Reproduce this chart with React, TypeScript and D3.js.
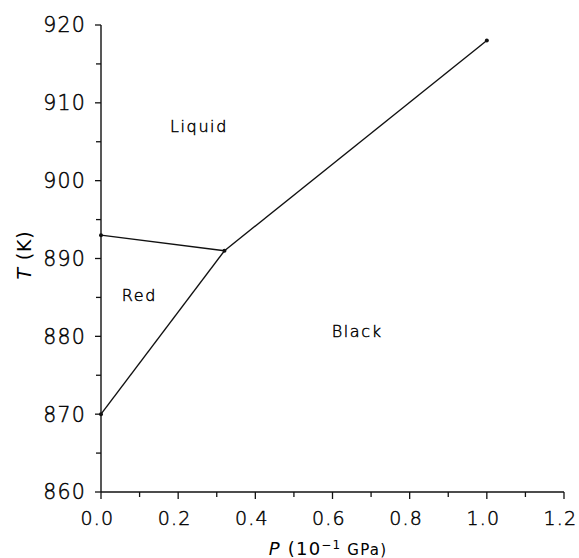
import React from "react";
import * as d3 from "d3";

// Data (P in 10^-1 GPa, T in K)
const liquidRed: [number, number][] = [[0, 893], [0.32, 891]];
const redBlack: [number, number][] = [[0, 870], [0.32, 891]];
const liquidBlack: [number, number][] = [[0.32, 891], [1.0, 918]];
const markedPoints: [number, number][] = [[0, 893], [0, 870], [0.32, 891], [1.0, 918]];

const xMajorTicks = [0, 0.2, 0.4, 0.6, 0.8, 1.0, 1.2];
const xMinorTicks = [0.1, 0.3, 0.5, 0.7, 0.9, 1.1];
const yMajorTicks = [860, 870, 880, 890, 900, 910, 920];
const yMinorTicks = [865, 875, 885, 895, 905, 915];

const regionNames = ["Liquid", "Red", "Black"];
const regionAnchors: [number, number][] = [[0.179, 906.2], [0.054, 884.6], [0.598, 879.9]];

const W = 579;
const H = 558;
const FONT = "'DejaVu Sans', 'Liberation Sans', sans-serif";

const textStyle = {
  fontFamily: FONT,
  fontWeight: 200,
  fill: "#000",
  stroke: "#000",
  strokeWidth: 0.45,
} as const;

export default function App() {
  const x = d3.scaleLinear().domain([0, 1.2]).range([101, 564]);
  const y = d3.scaleLinear().domain([860, 920]).range([492, 25]);
  const line = d3
    .line<[number, number]>()
    .x((d) => x(d[0]))
    .y((d) => y(d[1]));

  const fmtX = d3.format(".1f");

  return (
    <svg
      width={W}
      height={H}
      style={{ position: "absolute", left: 0, top: 0, background: "#fff" }}
    >
      <rect x={0} y={0} width={W} height={H} fill="#fff" />
      {/* axes */}
      <line x1={x(0)} x2={x(0)} y1={y(920)} y2={y(860)} stroke="#111" strokeWidth={1.4} />
      <line x1={x(0)} x2={x(1.2)} y1={y(860)} y2={y(860)} stroke="#111" strokeWidth={1.4} />
      {yMajorTicks.map((t) => (
        <g key={"ym" + t}>
          <line x1={x(0) - 6} x2={x(0)} y1={y(t)} y2={y(t)} stroke="#111" strokeWidth={1.3} />
          <text
            x={86}
            y={y(t)}
            dy="0.36em"
            textAnchor="end"
            fontSize={20.5}
            letterSpacing={1.2}
            {...textStyle}
          >
            {t}
          </text>
        </g>
      ))}
      {yMinorTicks.map((t) => (
        <line key={"yn" + t} x1={x(0) - 5} x2={x(0)} y1={y(t)} y2={y(t)} stroke="#111" strokeWidth={1.3} />
      ))}
      {xMajorTicks.map((t) => (
        <g key={"xm" + t}>
          <line x1={x(t)} x2={x(t)} y1={y(860)} y2={y(860) + 7} stroke="#111" strokeWidth={1.3} />
          <text
            x={x(t) - 3.5}
            y={525}
            textAnchor="middle"
            fontSize={19}
            letterSpacing={1.2}
            {...textStyle}
          >
            {fmtX(t)}
          </text>
        </g>
      ))}
      {xMinorTicks.map((t) => (
        <line key={"xn" + t} x1={x(t)} x2={x(t)} y1={y(860)} y2={y(860) + 5} stroke="#111" strokeWidth={1.3} />
      ))}

      {/* phase boundaries */}
      {[liquidRed, redBlack, liquidBlack].map((seg, i) => (
        <path key={"seg" + i} d={line(seg) || ""} fill="none" stroke="#111" strokeWidth={1.4} />
      ))}
      {markedPoints.map((p, i) => (
        <circle key={"pt" + i} cx={x(p[0])} cy={y(p[1])} r={2} fill="#111" />
      ))}

      {/* region labels */}
      {regionNames.map((n, i) => (
        <text
          key={n}
          x={x(regionAnchors[i][0])}
          y={y(regionAnchors[i][1])}
          fontSize={16}
          letterSpacing={1.6}
          {...textStyle}
        >
          {n}
        </text>
      ))}

      {/* axis titles */}
      <text
        transform={`translate(31, 255) rotate(-90)`}
        textAnchor="middle"
        fontSize={19}
        letterSpacing={0.8}
        {...textStyle}
        fontWeight={400}
        strokeWidth={0}
      >
        <tspan fontStyle="italic">T</tspan>
        <tspan> (K)</tspan>
      </text>
      <text
        x={328}
        y={555}
        textAnchor="middle"
        fontSize={18}
        letterSpacing={1.2}
        {...textStyle}
        fontWeight={400}
        strokeWidth={0}
      >
        <tspan fontStyle="italic">P</tspan>
        <tspan> (10</tspan>
        <tspan fontSize={12} dy={-6}>−1</tspan>
        <tspan fontSize={15} dy={6}> GPa)</tspan>
      </text>
    </svg>
  );
}
